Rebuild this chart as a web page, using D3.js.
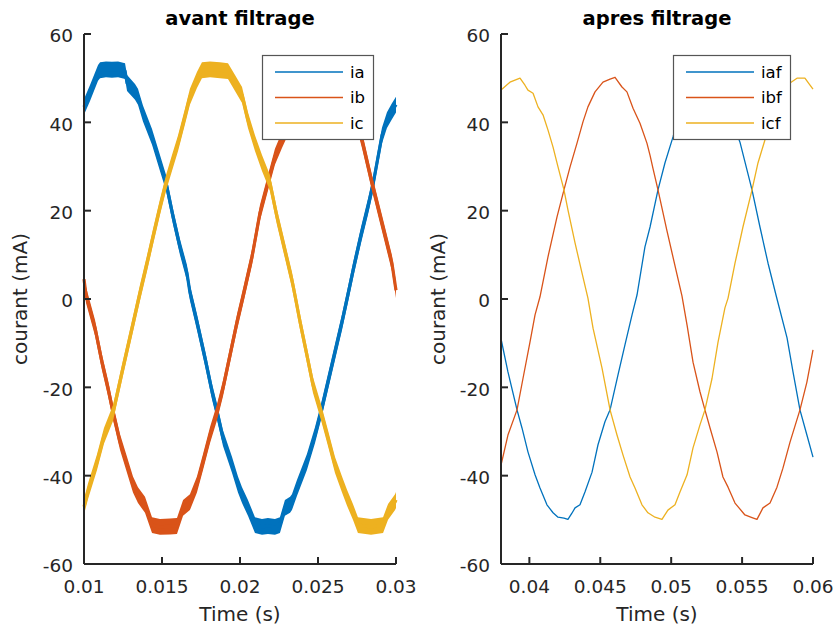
<!DOCTYPE html>
<html>
<head>
<meta charset="utf-8">
<script src="https://cdn.jsdelivr.net/npm/d3@7"></script>
<style>
  body { margin: 0; background: #fff; }
  svg { display: block; }
  text { font-family: "DejaVu Sans", sans-serif; }
</style>
</head>
<body>
<svg id="fig" width="838" height="632"></svg>
<script>
// ---- data: three-phase currents (time in s, current in mA) ----
const iaBefore = [[0.01000,43.5],[0.01038,46.6],[0.01090,51.2],[0.01103,51.8],[0.01141,52.0],[0.01179,51.9],[0.01218,52.0],[0.01263,51.6],[0.01276,48.9],[0.01327,46.9],[0.01346,45.8],[0.01378,42.0],[0.01436,36.7],[0.01487,30.8],[0.01526,26.3],[0.01571,18.6],[0.01615,11.8],[0.01660,5.9],[0.01679,1.5],[0.01724,-5.2],[0.01776,-13.4],[0.01821,-21.0],[0.01853,-25.6],[0.01891,-31.5],[0.01949,-37.6],[0.01987,-42.0],[0.02013,-44.4],[0.02051,-47.3],[0.02096,-51.2],[0.02141,-51.6],[0.02179,-51.4],[0.02224,-51.6],[0.02256,-51.2],[0.02288,-47.3],[0.02321,-46.6],[0.02333,-46.0],[0.02365,-42.8],[0.02429,-36.9],[0.02481,-30.8],[0.02519,-25.6],[0.02564,-18.8],[0.02609,-12.0],[0.02654,-5.2],[0.02692,1.0],[0.02731,7.5],[0.02776,14.5],[0.02821,21.0],[0.02853,26.0],[0.02910,37.0],[0.02942,40.5],[0.02974,42.5],[0.03000,44.0]];
const ibBefore = [[0.01000,4.5],[0.01013,0.9],[0.01071,-6.6],[0.01115,-14.3],[0.01154,-20.2],[0.01186,-25.6],[0.01231,-32.4],[0.01276,-37.6],[0.01314,-42.0],[0.01346,-44.4],[0.01391,-46.6],[0.01436,-51.2],[0.01487,-51.6],[0.01551,-51.5],[0.01596,-51.4],[0.01635,-47.3],[0.01679,-46.0],[0.01724,-42.0],[0.01763,-36.9],[0.01808,-30.8],[0.01853,-25.6],[0.01891,-20.2],[0.01936,-12.7],[0.01981,-5.2],[0.02019,0.5],[0.02077,9.5],[0.02128,19.5],[0.02179,26.3],[0.02224,32.2],[0.02269,36.0],[0.02321,40.0],[0.02365,44.5],[0.02385,46.5],[0.02429,51.5],[0.02500,51.8],[0.02590,51.5],[0.02603,48.9],[0.02654,46.6],[0.02686,44.0],[0.02724,42.0],[0.02756,39.5],[0.02782,36.0],[0.02846,26.3],[0.02910,17.2],[0.02974,8.1],[0.03000,2.0]];
const icBefore = [[0.01000,-47.0],[0.01026,-43.5],[0.01083,-37.0],[0.01128,-31.0],[0.01186,-25.8],[0.01250,-15.6],[0.01308,-6.6],[0.01359,1.4],[0.01404,8.1],[0.01442,14.0],[0.01487,20.8],[0.01526,26.3],[0.01564,30.8],[0.01603,35.3],[0.01647,41.3],[0.01679,45.8],[0.01724,49.6],[0.01756,51.8],[0.01808,52.0],[0.01872,51.8],[0.01923,51.6],[0.01968,48.9],[0.02013,46.2],[0.02051,40.5],[0.02096,35.3],[0.02141,30.8],[0.02192,26.3],[0.02237,18.6],[0.02288,11.0],[0.02333,4.3],[0.02353,0.7],[0.02385,-5.2],[0.02429,-12.7],[0.02468,-19.5],[0.02519,-25.6],[0.02564,-31.5],[0.02609,-37.6],[0.02654,-42.0],[0.02686,-45.0],[0.02724,-48.2],[0.02756,-51.2],[0.02840,-51.6],[0.02917,-51.2],[0.02949,-48.2],[0.02994,-46.0],[0.03000,-45.5]];

const iafAfter = [[0.03800,-9.0],[0.03849,-16.5],[0.03913,-25.1],[0.03948,-29.2],[0.03990,-34.6],[0.04040,-39.8],[0.04075,-42.8],[0.04124,-46.6],[0.04167,-48.4],[0.04202,-49.4],[0.04244,-49.6],[0.04272,-49.9],[0.04300,-48.5],[0.04322,-47.3],[0.04357,-46.6],[0.04392,-43.7],[0.04442,-39.2],[0.04484,-33.0],[0.04533,-27.8],[0.04569,-25.1],[0.04625,-17.2],[0.04674,-10.4],[0.04724,-3.6],[0.04759,0.9],[0.04815,11.8],[0.04851,16.3],[0.04907,24.7],[0.04956,30.8],[0.05013,36.7],[0.05040,39.8],[0.05075,42.8],[0.05124,46.6],[0.05167,48.4],[0.05202,49.4],[0.05274,49.9],[0.05323,47.3],[0.05359,46.6],[0.05394,43.7],[0.05443,39.2],[0.05485,35.5],[0.05570,24.7],[0.05626,16.3],[0.05683,8.1],[0.05739,0.9],[0.05817,-8.8],[0.05859,-16.5],[0.05908,-25.1],[0.05957,-30.8],[0.06000,-35.8]];
const ibfAfter = [[0.03800,-37.6],[0.03849,-30.8],[0.03913,-25.1],[0.03955,-18.0],[0.04004,-9.8],[0.04040,-3.6],[0.04075,0.5],[0.04131,9.5],[0.04195,18.6],[0.04244,24.7],[0.04287,29.9],[0.04336,35.3],[0.04378,40.1],[0.04413,43.5],[0.04463,46.9],[0.04519,49.1],[0.04569,49.8],[0.04604,50.2],[0.04653,48.0],[0.04688,46.9],[0.04731,43.2],[0.04780,39.8],[0.04829,35.3],[0.04851,32.5],[0.04872,29.5],[0.04907,24.7],[0.04970,15.5],[0.05027,7.5],[0.05076,0.7],[0.05112,-5.9],[0.05154,-14.3],[0.05203,-21.0],[0.05238,-25.1],[0.05274,-29.2],[0.05323,-34.6],[0.05365,-40.3],[0.05401,-42.6],[0.05450,-46.2],[0.05520,-48.9],[0.05570,-49.5],[0.05605,-49.9],[0.05647,-47.3],[0.05697,-46.2],[0.05746,-42.6],[0.05788,-38.3],[0.05838,-32.4],[0.05908,-25.1],[0.05957,-18.8],[0.06000,-11.5]];
const icfAfter = [[0.03800,47.3],[0.03863,49.1],[0.03934,50.0],[0.03969,48.4],[0.03990,47.3],[0.04026,46.6],[0.04061,43.5],[0.04096,41.7],[0.04131,38.3],[0.04167,34.4],[0.04202,29.9],[0.04244,24.7],[0.04272,20.2],[0.04322,12.7],[0.04371,5.9],[0.04413,0.2],[0.04449,-6.6],[0.04512,-15.6],[0.04569,-25.1],[0.04618,-30.8],[0.04660,-35.3],[0.04710,-40.3],[0.04745,-42.8],[0.04794,-46.6],[0.04836,-48.4],[0.04886,-49.4],[0.04935,-49.9],[0.04977,-47.8],[0.05027,-46.6],[0.05062,-43.7],[0.05112,-39.8],[0.05154,-33.7],[0.05203,-28.5],[0.05238,-25.1],[0.05288,-18.0],[0.05330,-9.8],[0.05379,-2.0],[0.05401,0.2],[0.05450,8.1],[0.05506,16.3],[0.05570,24.7],[0.05612,30.8],[0.05661,36.0],[0.05697,39.5],[0.05746,43.5],[0.05788,46.6],[0.05838,48.9],[0.05887,50.0],[0.05943,50.0],[0.05979,48.4],[0.06000,47.5]];

// switching ripple half-width on the unfiltered currents (mA)
const rippleBefore = 1.8;

// ---- axis ticks and labels ----
const yTicks = [-60, -40, -20, 0, 20, 40, 60];
const yDomain = [-60, 60];
const xTicksBefore = [0.01, 0.015, 0.02, 0.025, 0.03];
const xTicksAfter = [0.04, 0.045, 0.05, 0.055, 0.06];
const xDomainBefore = [0.01, 0.03];
const xDomainAfter = [0.038, 0.06];
const titles = ["avant filtrage", "apres filtrage"];
const namesBefore = ["ia", "ib", "ic"];
const namesAfter = ["iaf", "ibf", "icf"];
const xLabel = "Time (s)";
const yLabel = "courant (mA)";

const colors = ["#0072BD", "#D95319", "#EDB120"];
const axisColor = "#262626";

const svg = d3.select("#fig");
svg.append("rect").attr("width", 838).attr("height", 632).attr("fill", "#fff");

const plotTop = 34, plotBottom = 564;

const panels = [
  { left: 84, right: 396, domain: xDomainBefore, ticks: xTicksBefore, title: titles[0],
    series: [iaBefore, ibBefore, icBefore], names: namesBefore, ripple: rippleBefore, lw: 3.2,
    legend: { x: 262, y: 55, w: 111, h: 84 }, ylabX: 27 },
  { left: 501, right: 813, domain: xDomainAfter, ticks: xTicksAfter, title: titles[1],
    series: [iafAfter, ibfAfter, icfAfter], names: namesAfter, ripple: 0, lw: 1.3,
    legend: { x: 673, y: 55, w: 117, h: 84 }, ylabX: 445 }
];

panels.forEach(p => {
  const x = d3.scaleLinear().domain(p.domain).range([p.left, p.right]);
  const y = d3.scaleLinear().domain(yDomain).range([plotBottom, plotTop]);
  const g = svg.append("g");

  // curves
  const line = d3.line().x(d => x(d[0])).y(d => y(d[1]));
  const band = d3.area().x(d => x(d[0]))
    .y0(d => y(d[1] - p.ripple)).y1(d => y(d[1] + p.ripple));
  p.series.forEach((s, i) => {
    if (p.ripple > 0) {
      g.append("path").attr("d", band(s)).attr("fill", colors[i]).attr("stroke", "none");
    }
    g.append("path").attr("d", line(s)).attr("fill", "none")
      .attr("stroke", colors[i]).attr("stroke-width", p.lw)
      .attr("stroke-linejoin", "round").attr("stroke-linecap", "butt");
  });

  // axes (ticks pointing inward, no box)
  const ax = g.append("g").attr("transform", `translate(0,${plotBottom})`)
    .call(d3.axisBottom(x).tickValues(p.ticks).tickFormat(d => String(d))
      .tickSizeInner(-7).tickSizeOuter(0).tickPadding(0).offset(0));
  const ay = g.append("g").attr("transform", `translate(${p.left},0)`)
    .call(d3.axisLeft(y).tickValues(yTicks).tickFormat(d => String(d))
      .tickSizeInner(-7).tickSizeOuter(0).tickPadding(11).offset(0));
  [ax, ay].forEach(a => {
    a.select(".domain").attr("stroke", axisColor).attr("stroke-width", 2);
    a.selectAll(".tick line").attr("stroke", axisColor).attr("stroke-width", 2);
    a.selectAll(".tick text").attr("fill", axisColor)
      .style("font-family", '"DejaVu Sans", sans-serif').style("font-size", "18.5px");
  });
  ax.selectAll(".tick text").attr("y", 29).attr("dy", 0);
  ay.selectAll(".tick text").attr("dy", "0.45em");

  // title and axis labels
  const cx = (p.left + p.right) / 2;
  g.append("text").attr("x", cx).attr("y", 25).attr("text-anchor", "middle")
    .attr("fill", "#000").style("font-size", "19.5px").style("font-weight", "bold").text(p.title);
  g.append("text").attr("x", cx).attr("y", 621).attr("text-anchor", "middle")
    .attr("fill", axisColor).style("font-size", "20px").text(xLabel);
  g.append("text").attr("transform", `translate(${p.ylabX},${(plotTop + plotBottom) / 2}) rotate(-90)`)
    .attr("text-anchor", "middle").attr("fill", axisColor).style("font-size", "20px").text(yLabel);

  // legend
  const L = p.legend;
  const lg = g.append("g").attr("transform", `translate(${L.x},${L.y})`);
  lg.append("rect").attr("x", 0.5).attr("y", 0.5).attr("width", L.w).attr("height", L.h)
    .attr("fill", "#fff").attr("stroke", "#555").attr("stroke-width", 1.2);
  p.names.forEach((n, i) => {
    const ly = 17 + i * 25.5;
    lg.append("line").attr("x1", 13).attr("x2", 81).attr("y1", ly).attr("y2", ly)
      .attr("stroke", colors[i]).attr("stroke-width", 1.3);
    lg.append("text").attr("x", 88).attr("y", ly).attr("dy", "0.36em")
      .attr("fill", "#000").style("font-size", "16.5px").text(n);
  });
});
</script>
</body>
</html>
